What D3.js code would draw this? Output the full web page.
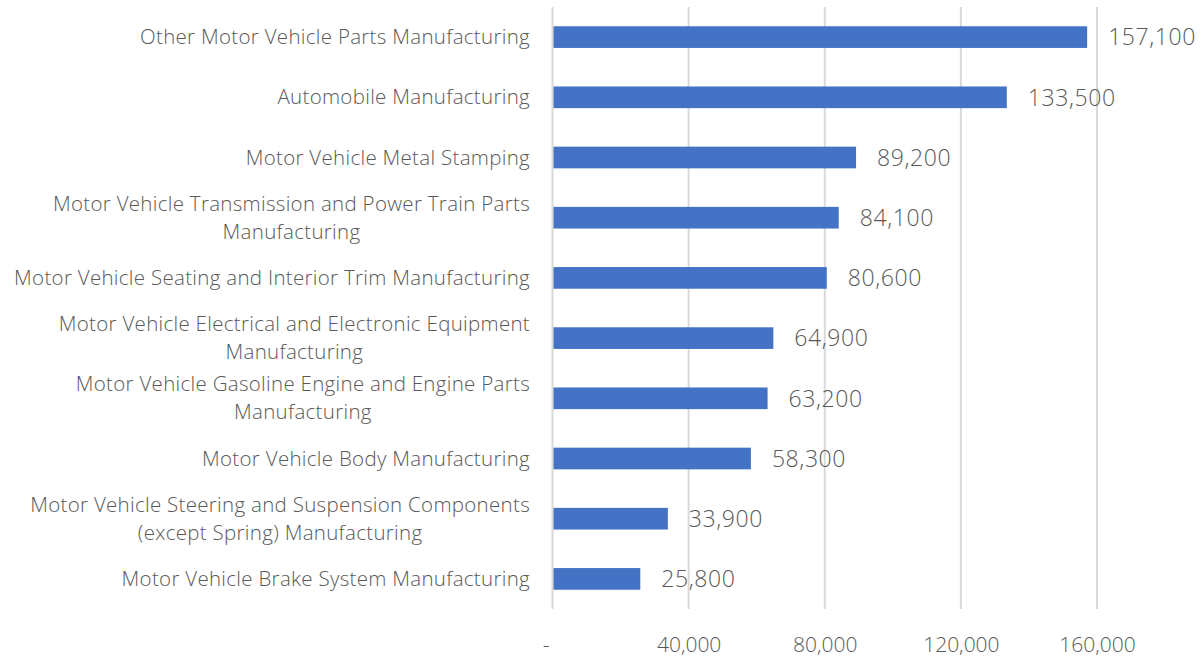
<!DOCTYPE html>
<html>
<head>
<meta charset="utf-8">
<script src="https://cdn.jsdelivr.net/npm/d3@7"></script>
<style>
  html, body { margin: 0; padding: 0; background: #fff; }
  svg { display: block; }
  text { font-family: "Open Sans", Lato, sans-serif; font-weight: 300; fill: #595959; }
</style>
</head>
<body>
<svg id="chart" width="1204" height="658"></svg>
<script>
// Employment by motor vehicle manufacturing industry
const categories = [
  ["Other Motor Vehicle Parts Manufacturing"],
  ["Automobile Manufacturing"],
  ["Motor Vehicle Metal Stamping"],
  ["Motor Vehicle Transmission and Power Train Parts", "Manufacturing"],
  ["Motor Vehicle Seating and Interior Trim Manufacturing"],
  ["Motor Vehicle Electrical and Electronic Equipment", "Manufacturing"],
  ["Motor Vehicle Gasoline Engine and Engine Parts", "Manufacturing"],
  ["Motor Vehicle Body Manufacturing"],
  ["Motor Vehicle Steering and Suspension Components", "(except Spring) Manufacturing"],
  ["Motor Vehicle Brake System Manufacturing"]
];
const values = [157100, 133500, 89200, 84100, 80600, 64900, 63200, 58300, 33900, 25800];
const tickValues = [0, 40000, 80000, 120000, 160000];
const tickLabels = ["-", "40,000", "80,000", "120,000", "160,000"];

const svg = d3.select("#chart");
const plotLeft = 552.5, plotRight = 1097, plotTop = 7, plotBottom = 609;

const x = d3.scaleLinear().domain([0, 160000]).range([plotLeft, plotRight]);
const y = d3.scaleBand().domain(d3.range(categories.length)).range([plotTop, plotBottom]).paddingInner(0.64).paddingOuter(0.32);

// vertical gridlines
svg.append("g").selectAll("line").data(tickValues).join("line")
  .attr("x1", d => x(d)).attr("x2", d => x(d))
  .attr("y1", plotTop).attr("y2", plotBottom)
  .attr("stroke", "#d9d9d9").attr("stroke-width", 2);

// bars
svg.append("g").selectAll("rect").data(values).join("rect")
  .attr("x", x(0) + 1)
  .attr("y", (d, i) => y(i))
  .attr("width", d => x(d) - x(0) - 1)
  .attr("height", y.bandwidth())
  .attr("fill", "#4472c4");

// value labels
svg.append("g").selectAll("text").data(values).join("text")
  .attr("x", d => x(d) + 21)
  .attr("y", (d, i) => y(i) + y.bandwidth() / 2)
  .attr("dy", "0.36em")
  .attr("font-size", 23)
  .attr("letter-spacing", 0.6)
  .text(d => d3.format(",")(d));

// x-axis tick labels
const xAxis = d3.axisBottom(x).tickValues(tickValues).tickFormat((d, i) => tickLabels[i]).tickSize(0).tickPadding(0);
const gx = svg.append("g").attr("transform", `translate(0,${plotBottom + 36})`).call(xAxis);
gx.select(".domain").remove();
gx.selectAll("text").attr("font-size", 21).attr("fill", "#595959").attr("dy", "0.35em")
  .style("font-family", "'Open Sans', Lato, sans-serif").style("font-weight", 300);
gx.selectAll(".tick").filter(d => d === 0).select("text").attr("dx", -7);

// category labels, wrapped lines centred within a right-aligned block
const labelRight = 530, lineH = 28;
const lg = svg.append("g");
categories.forEach((lines, i) => {
  const cy = y(i) + y.bandwidth() / 2;
  const g = lg.append("g");
  const texts = lines.map((s, k) => g.append("text")
    .attr("font-size", 20.5)
    .attr("letter-spacing", 0.3)
    .attr("y", cy + (k - (lines.length - 1) / 2) * lineH)
    .attr("dy", "0.35em")
    .text(s));
  const widths = texts.map(t => t.node().getComputedTextLength());
  const w = d3.max(widths);
  const cx = labelRight - w / 2;
  texts.forEach(t => t.attr("x", cx).attr("text-anchor", "middle"));
});
</script>
</body>
</html>
